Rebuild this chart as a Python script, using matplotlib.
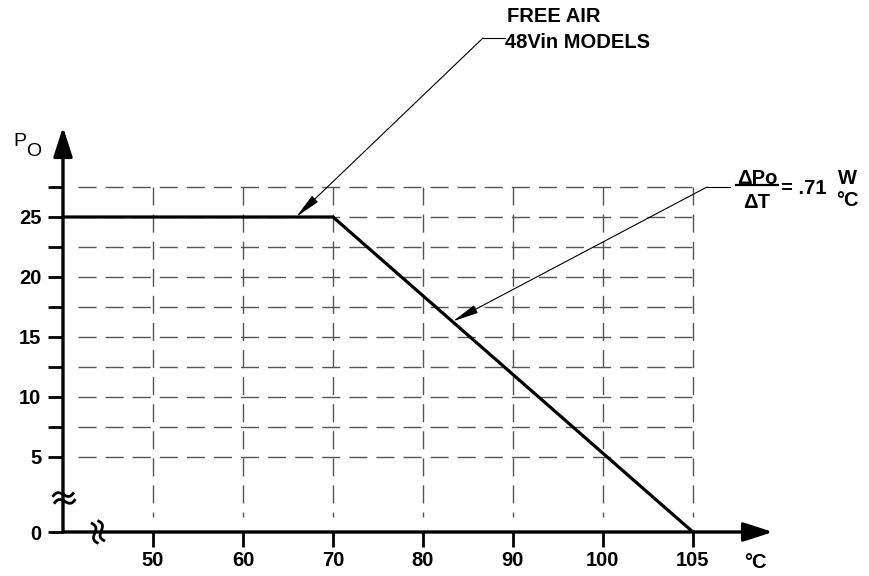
import matplotlib
matplotlib.use("Agg")
import matplotlib.pyplot as plt
import numpy as np
from matplotlib.lines import Line2D

# derating curve (ambient temp in degC, output power in W)
temp = [40, 70, 105]
power = [25, 25, 0]

xticks = [50, 60, 70, 80, 90, 100, 105]
xlabels = ["50", "60", "70", "80", "90", "100", "105"]
yticks = [0, 5, 10, 15, 20, 25]
ylabels = ["0", "5", "10", "15", "20", "25"]
yminor = [7.5, 12.5, 17.5, 22.5, 27.5]
xgrid = [50, 60, 70, 80, 90, 100, 105]
ygrid = [5, 7.5, 10, 12.5, 15, 17.5, 20, 22.5, 25, 27.5]

plt.rcParams['font.family'] = ['Liberation Sans', 'DejaVu Sans']
plt.rcParams['font.weight'] = 'bold'

# broken axes: last x cell (100-105) is drawn as wide as 10 degrees,
# y gap between 0 and 5 is stretched
def fx(t):
    return np.interp(t, [-100, 100, 200], [-100, 100, 300])

def fx_inv(m):
    return np.interp(m, [-100, 100, 300], [-100, 100, 200])

def fy(p):
    return np.interp(p, [-100, 5, 200], [5 - 105 * 1.25, 5, 200])

def fy_inv(m):
    return np.interp(m, [5 - 105 * 1.25, 5, 200], [-100, 5, 200])

W, H = 870, 576
fig = plt.figure(figsize=(8.7, 5.76), dpi=100)
ax = fig.add_axes([63 / W, 44 / H, 710 / W, 405 / H])
ax.set_xscale('function', functions=(fx, fx_inv))
ax.set_yscale('function', functions=(fy, fy_inv))
ax.set_xlim(40, fx_inv(118.9))
ax.set_ylim(0, 32.5)
for s in ax.spines.values():
    s.set_visible(False)

dash = (0, (13, 6.5))
ax.hlines(ygrid, 41.7, 105, colors='#555555', linewidth=1.0, linestyles=dash)
ax.vlines(xgrid, 27.5, 1.0, colors='#555555', linewidth=1.0, linestyles=dash)

ax.plot(temp, power, color='black', linewidth=2.3, solid_joinstyle='miter')

ax.set_xticks(xticks)
ax.set_xticklabels(xlabels)
ax.set_yticks(yticks)
ax.set_yticklabels(ylabels)
ax.set_yticks(yminor, minor=True)
ax.set_xticks([], minor=True)
ax.tick_params(axis='both', which='both', direction='out', length=11, width=2.0,
               labelsize=14.5)
ax.tick_params(axis='x', pad=3)
ax.tick_params(axis='y', pad=4.5)

# axis arrows
arr = dict(arrowstyle='-|>,head_length=18,head_width=5.8', mutation_scale=1,
           lw=2.4, color='black', shrinkA=0, shrinkB=0)
ax.annotate('', xy=(1, 0), xytext=(0, 0), xycoords='axes fraction', arrowprops=arr)
ax.annotate('', xy=(0, 1), xytext=(0, 0), xycoords='axes fraction', arrowprops=arr)

def fp(x, y):
    return (x / W, 1 - y / H)

# axis break marks (two small waves, in figure pixels)
def break_mark(cx, cy, angle):
    s = np.linspace(-11, 11, 40)
    a = np.deg2rad(angle)
    for off in (-3.5, 3.5):
        u = s
        v = 3.0 * np.sin(np.pi * s / 11) + off
        px = cx + u * np.cos(a) - v * np.sin(a)
        py = cy + u * np.sin(a) + v * np.cos(a)
        fig.add_artist(Line2D(px / W, 1 - py / H, transform=fig.transFigure,
                              lw=2.0, color='black', solid_capstyle='butt'))

break_mark(64, 498, -12)
break_mark(98, 532, 70)

fig.text(*fp(20, 141), 'P', fontsize=14, fontweight='normal', ha='center', va='center')
fig.text(*fp(34, 152), 'O', fontsize=14, fontweight='normal', ha='center', va='center')
fig.text(*fp(755, 562), '°C', fontsize=14.5, ha='center', va='center')

# leader arrows
lead = dict(arrowstyle='-|>,head_length=16,head_width=2.6', mutation_scale=1,
            lw=0.8, color='black', shrinkA=0, shrinkB=0)
ax.annotate('', xy=(65.9, 25), xycoords='data', xytext=(483, H - 38),
            textcoords='figure pixels', arrowprops=lead)
fig.add_artist(Line2D([483 / W, 505 / W], [1 - 38 / H] * 2, transform=fig.transFigure,
                      lw=0.8, color='black'))
fig.text(*fp(507, 17), 'FREE AIR', fontsize=14.5, ha='left', va='center')
fig.text(*fp(505, 43), '48Vin MODELS', fontsize=14.5, ha='left', va='center')

ax.annotate('', xy=(83.3, 16.3), xycoords='data', xytext=(707, H - 187),
            textcoords='figure pixels', arrowprops=lead)
fig.add_artist(Line2D([707 / W, 730 / W], [1 - 187 / H] * 2, transform=fig.transFigure,
                      lw=0.8, color='black'))
fig.text(*fp(757, 178), 'ΔPo', fontsize=14.5, ha='center', va='center')
fig.add_artist(Line2D([736 / W, 778 / W], [1 - 185 / H] * 2, transform=fig.transFigure,
                      lw=1.6, color='black'))
fig.text(*fp(757, 202), 'ΔT', fontsize=14.5, ha='center', va='center')
fig.text(*fp(781, 189), '= .71', fontsize=14.5, ha='left', va='center')
fig.text(*fp(847, 178), 'W', fontsize=14.5, ha='center', va='center')
fig.text(*fp(847, 200), '°C', fontsize=14.5, ha='center', va='center')

fig.savefig('out.png', dpi=100)
